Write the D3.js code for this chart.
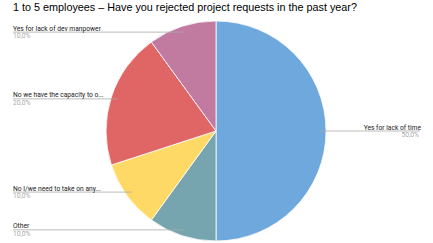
<!DOCTYPE html>
<html>
<head>
<meta charset="utf-8">
<script src="https://cdn.jsdelivr.net/npm/d3@7"></script>
<style>
  html, body { margin: 0; padding: 0; background: #fff; }
  svg { display: block; }
</style>
</head>
<body>
<div id="chart"></div>
<script>
const title = "1 to 5 employees \u2013 Have you rejected project requests in the past year?";
const categories = [
    "Yes for lack of time",
    "Other",
    "No I/we need to take on any...",
    "No we have the capacity to o...",
    "Yes for lack of dev manpower"
];
const values = [50, 10, 10, 20, 10];
const colors = ["#6fa8dc", "#76a5af", "#ffd966", "#e06666", "#c27ba0"];

const width = 433, height = 243;
const cx = 216, cy = 131, radius = 110;

const svg = d3.select("#chart")
    .append("svg")
    .attr("width", width)
    .attr("height", height);

svg.append("text")
    .attr("x", 13)
    .attr("y", 10.5)
    .attr("font-family", "Liberation Sans, Arial, sans-serif")
    .attr("font-size", 10.8)
    .attr("fill", "#000")
    .text(title);

const data = categories.map((c, i) => ({ name: c, value: values[i], color: colors[i] }));
const total = d3.sum(values);

const pie = d3.pie().value(d => d.value).sort(null);
const arc = d3.arc().innerRadius(0).outerRadius(radius);
const anchorArc = d3.arc().innerRadius(radius * 0.945).outerRadius(radius * 0.945);

const g = svg.append("g").attr("transform", `translate(${cx},${cy})`);

const arcs = pie(data);

g.selectAll("path")
    .data(arcs)
    .join("path")
    .attr("d", arc)
    .attr("fill", d => d.data.color)
    .attr("stroke", "#fff")
    .attr("stroke-width", 0.8);

const fmt = v => d3.format(".1f")(v).replace(".", ",") + "%";

// label lines run horizontally from the slice out to the margin
const leftX = 13, rightX = 420;
arcs.forEach(d => {
    const [ax, ay] = anchorArc.centroid(d);
    const mid = (d.startAngle + d.endAngle) / 2;
    const right = mid < Math.PI;
    const x0 = cx + ax, y0 = cy + ay;
    const x1 = right ? rightX : leftX;

    svg.append("line")
        .attr("x1", x0).attr("y1", y0)
        .attr("x2", x1).attr("y2", y0)
        .attr("stroke", "#aaa")
        .attr("stroke-width", 0.8);

    svg.append("text")
        .attr("x", right ? x1 + 1 : x1)
        .attr("y", y0 - 1.5)
        .attr("text-anchor", right ? "end" : "start")
        .attr("font-family", "Roboto, sans-serif")
        .attr("font-size", 6.7)
        .attr("fill", "#222")
        .text(d.data.name);

    svg.append("text")
        .attr("x", right ? x1 - 1 : x1)
        .attr("y", y0 + 6)
        .attr("text-anchor", right ? "end" : "start")
        .attr("font-family", "Roboto, sans-serif")
        .attr("font-size", 6.7)
        .attr("fill", "#aaa")
        .text(fmt(d.data.value / total * 100));
});
</script>
</body>
</html>
